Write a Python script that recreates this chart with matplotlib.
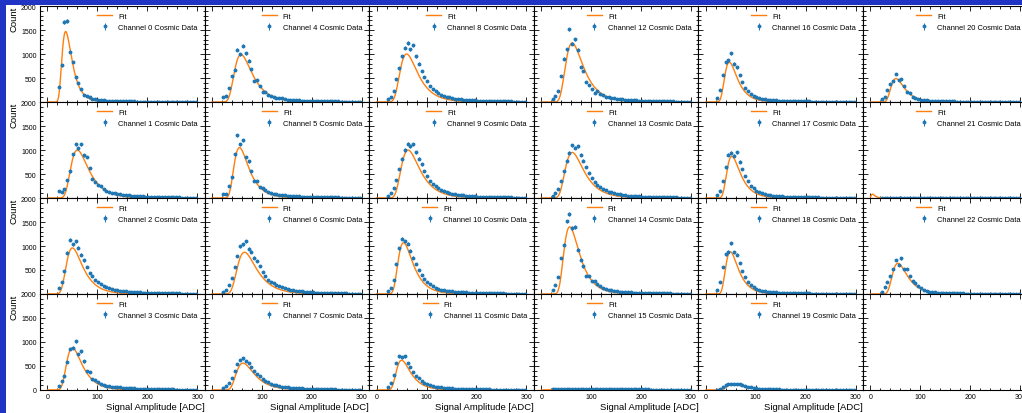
import numpy as np
import matplotlib
matplotlib.use("Agg")
import matplotlib.pyplot as plt
from matplotlib.patches import Rectangle
from matplotlib.ticker import AutoMinorLocator, MultipleLocator, FixedFormatter

plt.rcParams['font.family'] = ['Liberation Sans', 'DejaVu Sans']

# --- histogram bins (20..300 ADC, 50 bins) ---
bin_edges = np.linspace(20, 300, 51)
bin_centers = 0.5 * (bin_edges[:-1] + bin_edges[1:])

# --- counts per channel ---
ch0 = [312, 763, 1672, 1686, 1048, 833, 527, 403, 264, 153, 125, 97, 72, 58, 48, 40, 35, 30, 27, 24,
       21, 19, 17, 15, 14, 13, 12, 11, 10, 9, 9, 8, 8, 7, 7, 6, 6, 5, 5, 5, 4, 4, 4, 3, 3, 3, 3, 2, 2, 2]
ch1 = [139, 125, 180, 382, 555, 909, 1117, 1041, 1117, 888, 854, 625, 389, 333, 270, 250, 180, 139, 125, 111,
       100, 90, 80, 70, 62, 55, 50, 45, 40, 36, 33, 30, 27, 25, 23, 21, 19, 18, 16, 15, 14, 13, 12, 11, 10, 10, 9, 8, 8, 7]
ch2 = [130, 240, 480, 860, 1130, 1040, 1100, 960, 820, 700, 560, 440, 370, 290, 240, 200, 160, 140, 120, 100,
       90, 80, 72, 64, 58, 52, 47, 42, 38, 34, 31, 28, 26, 24, 22, 20, 18, 17, 16, 15, 14, 13, 12, 11, 10, 10, 9, 8, 8, 7]
ch3 = [90, 194, 298, 576, 854, 882, 1013, 750, 805, 597, 403, 368, 229, 215, 173, 127, 106, 90,
       80, 72, 65, 58, 52, 46, 42, 38, 34, 31, 28, 26, 24, 22, 20, 19, 18, 17, 16, 15, 14, 13, 12, 11, 10, 10, 9, 9, 8, 8, 7, 7]
ch4 = [97, 132, 285, 548, 673, 1090, 1000, 1173, 1020, 861, 687, 444, 465, 326, 215, 201, 146, 132, 97, 76,
       90, 83, 62, 52, 46, 42, 38, 34, 31, 28, 26, 24, 22, 20, 18, 17, 16, 15, 14, 13, 12, 11, 10, 10, 9, 9, 8, 8, 7, 7]
ch5 = [90, 90, 243, 437, 909, 1305, 1117, 1200, 854, 763, 562, 347, 354, 229, 208, 160, 125, 97, 90,
       80, 72, 64, 57, 51, 46, 42, 38, 34, 31, 28, 26, 24, 22, 20, 18, 17, 16, 15, 14, 13, 12, 11, 10, 10, 9, 9, 8, 8, 7, 7]
ch6 = [50, 90, 180, 340, 560, 790, 990, 1040, 1100, 940, 880, 760, 690, 580, 450, 380, 300, 260, 220, 180,
       160, 140, 120, 105, 92, 80, 70, 62, 55, 48, 43, 38, 34, 30, 27, 24, 22, 20, 18, 16, 15, 14, 13, 12, 11, 10, 9, 9, 8, 8]
ch7 = [40, 80, 150, 260, 400, 540, 620, 660, 600, 560, 470, 400, 330, 290, 230, 190, 160, 130, 110, 95,
       82, 72, 64, 56, 50, 44, 40, 36, 32, 29, 26, 24, 22, 20, 18, 16, 15, 14, 13, 12, 11, 10, 9, 9, 8, 8, 7, 7, 6, 6]
ch8 = [60, 110, 240, 480, 700, 950, 1130, 1230, 1100, 1180, 950, 800, 650, 520, 430, 330, 270, 220, 180, 150,
       130, 110, 95, 82, 72, 64, 57, 50, 45, 40, 36, 33, 30, 27, 25, 23, 21, 19, 17, 16, 15, 14, 13, 12, 11, 10, 9, 9, 8, 8]
ch9 = [50, 100, 200, 380, 600, 820, 1000, 1130, 1080, 1120, 950, 820, 700, 560, 450, 360, 290, 240, 200, 160,
       140, 120, 100, 88, 77, 68, 60, 53, 47, 42, 38, 34, 31, 28, 25, 23, 21, 19, 17, 16, 15, 14, 13, 12, 11, 10, 9, 9, 8, 8]
ch10 = [60, 130, 300, 620, 950, 1150, 1100, 1050, 900, 760, 620, 500, 400, 310, 250, 200, 160, 130, 110, 92,
        80, 70, 62, 55, 49, 44, 40, 36, 32, 29, 26, 24, 22, 20, 18, 17, 16, 15, 14, 13, 12, 11, 10, 10, 9, 9, 8, 8, 7, 7]
ch11 = [60, 150, 320, 560, 700, 680, 700, 560, 470, 380, 300, 240, 190, 150, 120, 100, 82, 70, 60, 52,
        46, 41, 37, 33, 30, 27, 25, 23, 21, 19, 17, 16, 15, 14, 13, 12, 11, 10, 9, 9, 8, 8, 7, 7, 6, 6, 5, 5, 5, 4]
ch12 = [55, 125, 229, 541, 902, 1096, 1513, 1214, 1305, 1090, 729, 645, 416, 361, 278, 180, 229, 160, 139, 111, 97,
        85, 76, 68, 60, 54, 48, 43, 39, 35, 32, 29, 26, 24, 22, 20, 18, 17, 16, 15, 14, 13, 12, 11, 10, 10, 9, 9, 8, 8]
ch13 = [50, 100, 180, 360, 560, 780, 940, 1100, 1050, 1080, 900, 780, 650, 520, 420, 340, 280, 230, 190, 160,
        135, 115, 100, 86, 75, 66, 58, 52, 46, 41, 37, 33, 30, 27, 25, 23, 21, 19, 17, 16, 15, 14, 13, 12, 11, 10, 9, 9, 8, 8]
ch14 = [90, 194, 354, 750, 1027, 1513, 1672, 1374, 1395, 923, 715, 576, 382, 368, 278, 264, 208, 160, 125, 97,
        85, 75, 66, 58, 52, 46, 42, 38, 34, 31, 28, 25, 23, 21, 19, 18, 17, 16, 15, 14, 13, 12, 11, 10, 10, 9, 9, 8, 8, 7]
ch15 = [15, 18, 20, 22, 24, 25, 26, 25, 24, 24, 23, 22, 22, 21, 20, 20, 19, 18, 18, 17,
        17, 16, 16, 15, 15, 14, 14, 13, 13, 13, 12, 12, 11, 11, 11, 10, 10, 10, 9, 9, 9, 8, 8, 8, 8, 7, 7, 7, 7, 6]
ch16 = [80, 250, 560, 830, 870, 1020, 800, 720, 560, 420, 300, 230, 170, 130, 100, 80, 66, 55, 47, 41,
        36, 32, 28, 25, 23, 21, 19, 17, 16, 15, 14, 13, 12, 11, 10, 10, 9, 9, 8, 8, 7, 7, 6, 6, 6, 5, 5, 5, 4, 4]
ch17 = [60, 150, 360, 640, 900, 940, 880, 950, 760, 600, 460, 350, 260, 200, 150, 120, 96, 80, 67, 57,
        49, 43, 38, 34, 30, 27, 24, 22, 20, 18, 17, 16, 15, 14, 13, 12, 11, 10, 10, 9, 9, 8, 8, 7, 7, 6, 6, 6, 5, 5]
ch18 = [80, 240, 560, 830, 880, 1060, 870, 820, 640, 480, 350, 260, 190, 145, 110, 88, 72, 60, 50, 43,
        38, 33, 29, 26, 23, 21, 19, 17, 16, 15, 14, 13, 12, 11, 10, 10, 9, 9, 8, 8, 7, 7, 6, 6, 6, 5, 5, 5, 4, 4]
ch19 = [10, 30, 60, 95, 115, 130, 125, 135, 115, 100, 80, 65, 52, 42, 34, 28, 23, 20, 17, 15,
        13, 12, 11, 10, 9, 8, 8, 7, 7, 6, 6, 5, 5, 5, 4, 4, 4, 4, 3, 3, 3, 3, 3, 2, 2, 2, 2, 2, 2, 2]
ch20 = [62, 111, 257, 375, 430, 583, 458, 479, 326, 215, 187, 97, 76, 62, 48, 40, 34, 29, 25, 22,
        20, 18, 16, 14, 13, 12, 11, 10, 9, 8, 8, 7, 7, 6, 6, 5, 5, 5, 4, 4, 4, 3, 3, 3, 3, 3, 2, 2, 2, 2]
ch21 = [0] * 50
ch22 = [40, 139, 243, 382, 520, 708, 604, 743, 520, 520, 382, 278, 229, 160, 118, 83, 62, 48, 40, 34,
        29, 25, 22, 20, 18, 16, 14, 13, 12, 11, 10, 9, 8, 8, 7, 7, 6, 6, 5, 5, 5, 4, 4, 4, 3, 3, 3, 3, 2, 2]

channel_counts = [ch0, ch1, ch2, ch3, ch4, ch5, ch6, ch7, ch8, ch9, ch10, ch11,
                  ch12, ch13, ch14, ch15, ch16, ch17, ch18, ch19, ch20, ch21, ch22]

# --- fitted (Moyal/Landau-like) parameters per channel ---
fit_amp = [1470, 1000, 960, 880, 990, 1050, 870, 560, 1000, 1000, 1070, 620,
           1230, 950, 1400, 20, 830, 870, 880, 120, 490, 80, 640]
fit_mpv = [36.5, 60, 50, 50, 58, 55, 65, 62, 60, 63, 54, 50,
           62, 62, 57, 60, 47, 52, 49, 55, 51, 4, 55]
fit_width = [6.7, 12, 11, 10.5, 12, 10, 13, 12, 12, 12.5, 10, 9.5,
             12, 12.5, 10.5, 25, 8.5, 9, 8.5, 11, 9, 2.5, 10]

y_ticks = [0, 500, 1000, 1500, 2000]
y_ticklabels_top_rows = ['', '500', '1000', '1500', '2000']
y_ticklabels_bottom_row = ['0', '500', '1000', '1500', '2000']


def landau_approx(x, amp, mpv, width):
    z = (x - mpv) / width
    return amp * np.exp(-0.5 * (z + np.exp(-z)) + 0.5)


n_rows, n_cols = 4, 6
fig, axes = plt.subplots(n_rows, n_cols, figsize=(10.22, 4.14), dpi=100,
                         sharex=True)
fig.subplots_adjust(left=0.0391, right=1.0055, top=0.983, bottom=0.0556,
                    wspace=0, hspace=0)

# blue slide background showing at the left and top edges
blue = '#1f33c4'
fig.patches.append(Rectangle((0, 0), 6 / 1022, 1, transform=fig.transFigure,
                             facecolor=blue, edgecolor='none', zorder=0))
fig.patches.append(Rectangle((0, 1 - 6 / 414), 1, 6 / 414, transform=fig.transFigure,
                             facecolor=blue, edgecolor='none', zorder=0))

x_fit = np.linspace(0, 300, 600)

for c in range(n_cols):
    for r in range(n_rows):
        ax = axes[r, c]
        ch = c * n_rows + r
        if ch < len(channel_counts):
            counts = np.array(channel_counts[ch], dtype=float)
            ax.plot(x_fit, landau_approx(x_fit, fit_amp[ch], fit_mpv[ch], fit_width[ch]),
                    color='#ff7f0e', lw=1.0, label='Fit')
            ax.errorbar(bin_centers, counts, yerr=np.sqrt(counts), fmt='o', ms=1.8,
                        color='#1f77b4', elinewidth=0.7, capsize=0,
                        label=f'Channel {ch} Cosmic Data')
            ax.legend(loc='upper right', frameon=False, fontsize=5.4,
                      handlelength=2.0, labelspacing=0.5)

        ax.set_xlim(-15, 315)
        ax.set_ylim(0, 2000)
        ax.xaxis.set_major_locator(MultipleLocator(100))
        ax.set_yticks(y_ticks)
        if c == 0:
            labels = y_ticklabels_bottom_row if r == n_rows - 1 else y_ticklabels_top_rows
            ax.set_yticklabels(labels)
        else:
            ax.tick_params(labelleft=False)
        ax.xaxis.set_minor_locator(AutoMinorLocator())
        ax.yaxis.set_minor_locator(AutoMinorLocator())
        ax.tick_params(which='both', direction='in', top=True, right=True,
                       labelsize=5, width=0.6, pad=2.5)
        ax.tick_params(which='major', length=3.5)
        ax.tick_params(which='minor', length=1.8)
        for sp in ax.spines.values():
            sp.set_linewidth(0.8)

        if r == n_rows - 1 and c < n_cols - 1:
            ax.set_xlabel('Signal Amplitude [ADC]', loc='right', fontsize=6.8, labelpad=1)
        if c == 0:
            ax.set_ylabel('Count', loc='top', fontsize=6.8, labelpad=2)

fig.savefig('out.png', dpi=100, facecolor='white')
